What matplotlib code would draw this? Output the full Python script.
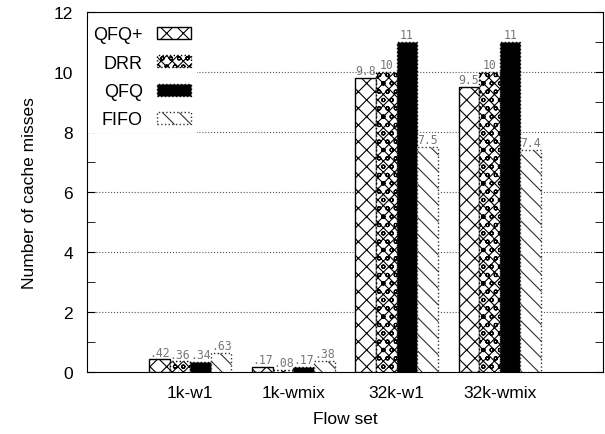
import numpy as np
import matplotlib
matplotlib.use('Agg')
import matplotlib.pyplot as plt
from matplotlib.ticker import MultipleLocator

plt.rcParams['font.family'] = ['Liberation Sans', 'DejaVu Sans']
plt.rcParams['hatch.linewidth'] = 0.8

flow_sets = ['1k-w1', '1k-wmix', '32k-w1', '32k-wmix']
schedulers = ['QFQ+', 'DRR', 'QFQ', 'FIFO']
qfq_plus = [0.42, 0.17, 9.8, 9.5]
drr = [0.36, 0.08, 10, 10]
qfq = [0.34, 0.17, 11, 11]
fifo = [0.63, 0.38, 7.5, 7.4]
labels = [['.42', '.17', '9.8', '9.5'],
          ['.36', '.08', '10', '10'],
          ['.34', '.17', '11', '11'],
          ['.63', '.38', '7.5', '7.4']]

series = [qfq_plus, drr, qfq, fifo]
styles = [
    dict(facecolor='white', edgecolor='black', hatch='xx', linestyle='-'),
    dict(facecolor='white', edgecolor='black', hatch='xxxoo', linestyle=':'),
    dict(facecolor='black', edgecolor='black', hatch=None, linestyle=':'),
    dict(facecolor='white', edgecolor='#333333', hatch='\\\\', linestyle=':'),
]

fig = plt.figure(figsize=(6.05, 4.35), dpi=100)
ax = fig.add_axes([0.1438, 0.1425, 0.8529, 0.8275])

x = np.arange(len(flow_sets))
w = 0.2
for i, (vals, st) in enumerate(zip(series, styles)):
    pos = x + (i - 1.5) * w
    ax.bar(pos, vals, width=w, linewidth=1.0, label=schedulers[i], zorder=3, **st)
    for p, v, s in zip(pos, vals, labels[i]):
        ax.annotate(s, (p, v), xytext=(0, 0.5), textcoords='offset points',
                    ha='center', va='bottom', fontsize=8.3, color='#777777',
                    family='DejaVu Sans Mono', zorder=4)

ax.set_xlim(-1, 4)
ax.set_ylim(0, 12)
ax.set_xticks(x)
ax.set_xticklabels(flow_sets)
ax.yaxis.set_major_locator(MultipleLocator(2))
ax.yaxis.set_minor_locator(MultipleLocator(1))
ax.tick_params(axis='x', length=0, pad=9, labelsize=12.5)
ax.tick_params(axis='y', which='both', direction='in', left=True, right=True, labelsize=12.5, pad=10)
ax.tick_params(axis='y', which='major', length=6)
ax.tick_params(axis='y', which='minor', length=6)
ax.grid(axis='y', linestyle=':', color='#555555', linewidth=0.8, zorder=0)
ax.set_axisbelow(True)

ax.set_xlabel('Flow set', fontsize=12.5, labelpad=8)
ax.set_ylabel('Number of cache misses', fontsize=12.5, labelpad=12)

leg = ax.legend(loc='upper left', bbox_to_anchor=(-0.016, 1.0), markerfirst=False,
                fontsize=13, handlelength=1.9, handleheight=0.65, labelspacing=0.62,
                handletextpad=0.8, borderpad=0.3, frameon=True, fancybox=False)
leg.get_frame().set_edgecolor('none')
leg.get_frame().set_facecolor('white')
leg.get_frame().set_alpha(1)
leg.set_zorder(5)

fig.savefig('out.png', dpi=100)
